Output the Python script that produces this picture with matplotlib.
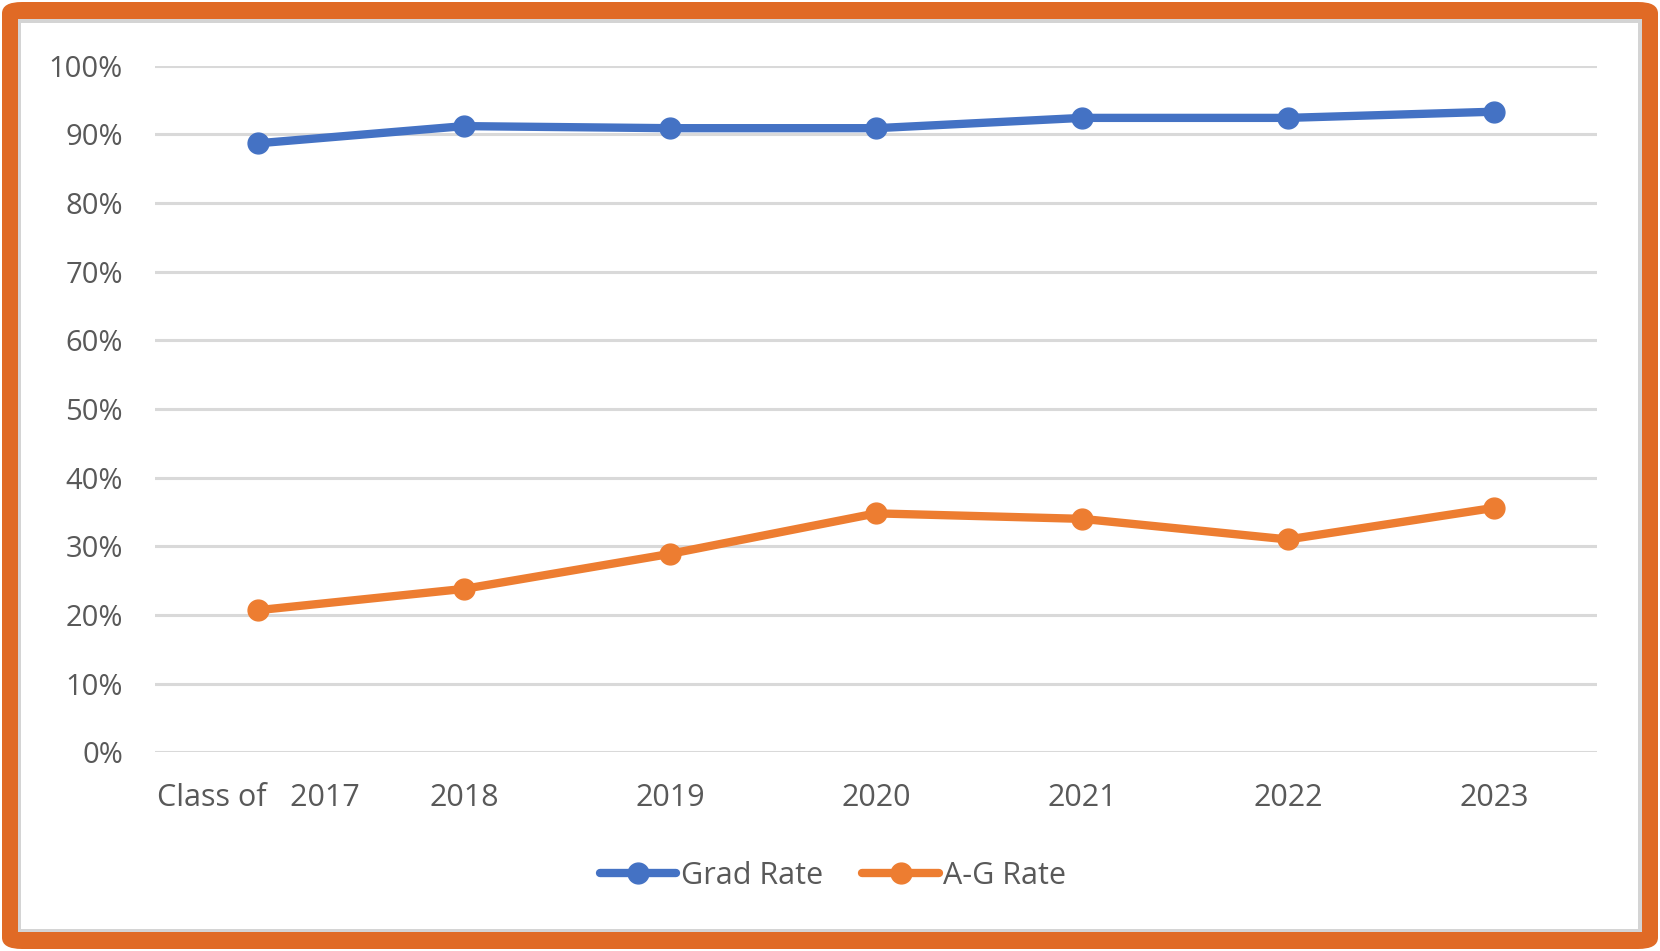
import matplotlib
matplotlib.use("Agg")
import matplotlib.pyplot as plt
from matplotlib.patches import FancyBboxPatch, Rectangle
from matplotlib.ticker import PercentFormatter
from matplotlib.lines import Line2D

categories = ["Class of   2017", "2018", "2019", "2020", "2021", "2022", "2023"]
grad_rate = [0.887, 0.912, 0.909, 0.909, 0.924, 0.924, 0.933]
ag_rate = [0.207, 0.238, 0.289, 0.348, 0.340, 0.310, 0.356]
y_ticks = [0.0, 0.1, 0.2, 0.3, 0.4, 0.5, 0.6, 0.7, 0.8, 0.9, 1.0]

BLUE = "#4472C4"
ORANGE = "#ED7D31"
FRAME = "#E06A25"
TEXT = "#595959"
GRID = "#D9D9D9"

plt.rcParams['font.family'] = ['Open Sans', 'DejaVu Sans']

W, H = 1660, 951
fig = plt.figure(figsize=(W / 100, H / 100), dpi=100)
fig.patch.set_facecolor("white")

# Frame: rounded orange border, thin gray inner edge, white interior
fig.patches.append(FancyBboxPatch((2 / W, 2 / H), (W - 4) / W, (H - 4) / H,
                                  boxstyle="round,pad=0,rounding_size=0.012",
                                  transform=fig.transFigure, facecolor=FRAME,
                                  edgecolor="none", zorder=-3))
fig.patches.append(Rectangle((18 / W, 19 / H), (1642 - 18) / W, (932 - 19) / H,
                             transform=fig.transFigure, facecolor="#D4D4D4",
                             edgecolor="none", zorder=-2))
fig.patches.append(Rectangle((21 / W, 22 / H), (1638 - 21) / W, (928 - 22) / H,
                             transform=fig.transFigure, facecolor="white",
                             edgecolor="none", zorder=-1))

left, right = 155 / W, 1597 / W
bottom, top = 1 - 752.3 / H, 1 - 65.7 / H
ax = fig.add_axes([left, bottom, right - left, top - bottom])
ax.set_facecolor("none")
ax.set_zorder(1)

x = list(range(len(categories)))
ax.plot(x, grad_rate, color=BLUE, lw=6, marker="o", ms=15,
        solid_capstyle="round", label="Grad Rate", zorder=3)
ax.plot(x, ag_rate, color=ORANGE, lw=6, marker="o", ms=15,
        solid_capstyle="round", label="A-G Rate", zorder=3)

ax.set_xlim(-0.5, len(categories) - 0.5)
ax.set_ylim(0, 1.0)
ax.set_yticks(y_ticks)
ax.yaxis.set_major_formatter(PercentFormatter(1.0, decimals=0))
ax.set_xticks(x)
ax.set_xticklabels(categories)
ax.grid(axis="y", color=GRID, lw=2.2)
ax.set_axisbelow(True)
for s in ax.spines.values():
    s.set_visible(False)
ax.tick_params(axis="both", length=0, labelcolor=TEXT)
ax.tick_params(axis="y", pad=23, labelsize=21)
ax.tick_params(axis="x", pad=22, labelsize=22)

handles = [Line2D([0], [0], color=BLUE, lw=6, marker="o", ms=15, solid_capstyle="round"),
           Line2D([0], [0], color=ORANGE, lw=6, marker="o", ms=15, solid_capstyle="round")]
leg = fig.legend(handles, ["Grad Rate", "A-G Rate"], loc="center",
                 bbox_to_anchor=(833 / W, 1 - 876 / H), ncol=2, frameon=False,
                 fontsize=22, labelcolor=TEXT, handlelength=2.5,
                 handletextpad=0.15, columnspacing=1.3)

fig.savefig("out.png", dpi=100, facecolor="white")
